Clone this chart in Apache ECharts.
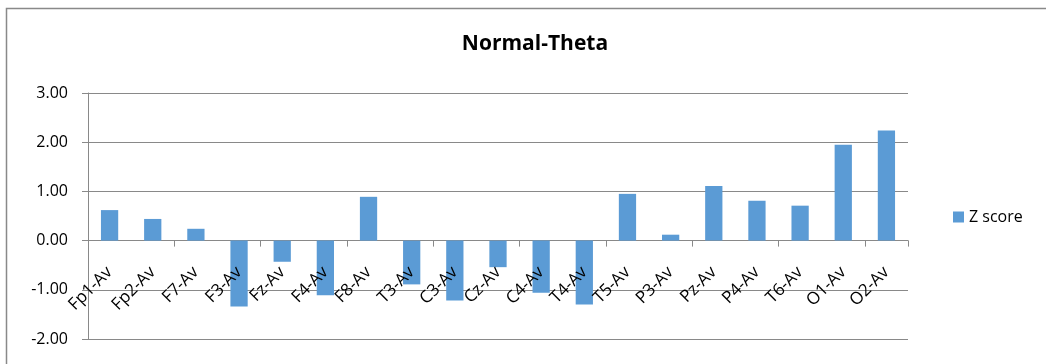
<!DOCTYPE html>
<html><head><meta charset="utf-8">
<script src="https://cdn.jsdelivr.net/npm/echarts@6/dist/echarts.min.js"></script>
<style>html,body{margin:0;padding:0;background:#fff}#c{width:1046px;height:364px}</style>
</head><body><div id="c"></div>
<script>
const categories = ['Fp1-Av','Fp2-Av','F7-Av','F3-Av','Fz-Av','F4-Av','F8-Av','T3-Av','C3-Av','Cz-Av','C4-Av','T4-Av','T5-Av','P3-Av','Pz-Av','P4-Av','T6-Av','O1-Av','O2-Av'];
const zScore = [0.62,0.44,0.24,-1.34,-0.43,-1.11,0.89,-0.89,-1.22,-0.54,-1.06,-1.30,0.95,0.12,1.11,0.81,0.71,1.95,2.24];
const seriesName = 'Z score';
const titleText = 'Normal-Theta';
const yMin = -2, yMax = 3, yStep = 1;

const W = 1046, H = 364;
const gridTop = 93, gridBottom = 25, gridLeft = 88, gridRight = 138;
const plotH = H - gridTop - gridBottom;
const zeroOffset = -plotH * (0 - yMin) / (yMax - yMin);

const chart = echarts.init(document.getElementById('c'), null, {renderer:'canvas'});
const font = '"Open Sans", Lato, sans-serif';
const gray = '#898989';
chart.setOption({
  animation:false,
  backgroundColor:'#fff',
  graphic:[{type:'rect',shape:{x:6.5,y:8.5,width:1100,height:400},style:{fill:'none',stroke:gray,lineWidth:1.5},silent:true}],
  title:{text:titleText,left:530,top:29,textAlign:'center',textStyle:{fontFamily:font,fontSize:21,fontWeight:'bold',color:'#000'}},
  legend:{data:[seriesName],left:948,top:204,itemWidth:11,itemHeight:11,itemGap:6,icon:'rect',textStyle:{fontFamily:font,fontSize:16,color:'#000'}},
  grid:{left:gridLeft,right:gridRight,top:gridTop,bottom:gridBottom,containLabel:false,outerBoundsMode:'none'},
  xAxis:[{type:'category',data:categories,
    axisLine:{onZero:true,lineStyle:{color:gray,width:1}},
    axisTick:{show:true,length:6,lineStyle:{color:gray}},
    axisLabel:{show:false},
    splitLine:{show:false}},
   {type:'category',data:categories,position:'bottom',offset:zeroOffset,z:10,
    axisLine:{show:false,onZero:false},axisTick:{show:false},
    axisLabel:{rotate:45,margin:29,fontFamily:font,fontSize:17,color:'#000',interval:0},
    splitLine:{show:false}}],
  yAxis:{type:'value',min:yMin,max:yMax,interval:yStep,
    axisLine:{show:true,lineStyle:{color:gray}},
    axisTick:{show:true,length:6,lineStyle:{color:gray}},
    axisLabel:{formatter:v=>v.toFixed(2),margin:20,fontFamily:font,fontSize:16,color:'#000'},
    splitLine:{lineStyle:{color:gray,width:1}}},
  series:[{name:seriesName,type:'bar',xAxisIndex:0,data:zScore,barWidth:'40%',itemStyle:{color:'#5B9BD5'}}]
});
</script></body></html>
